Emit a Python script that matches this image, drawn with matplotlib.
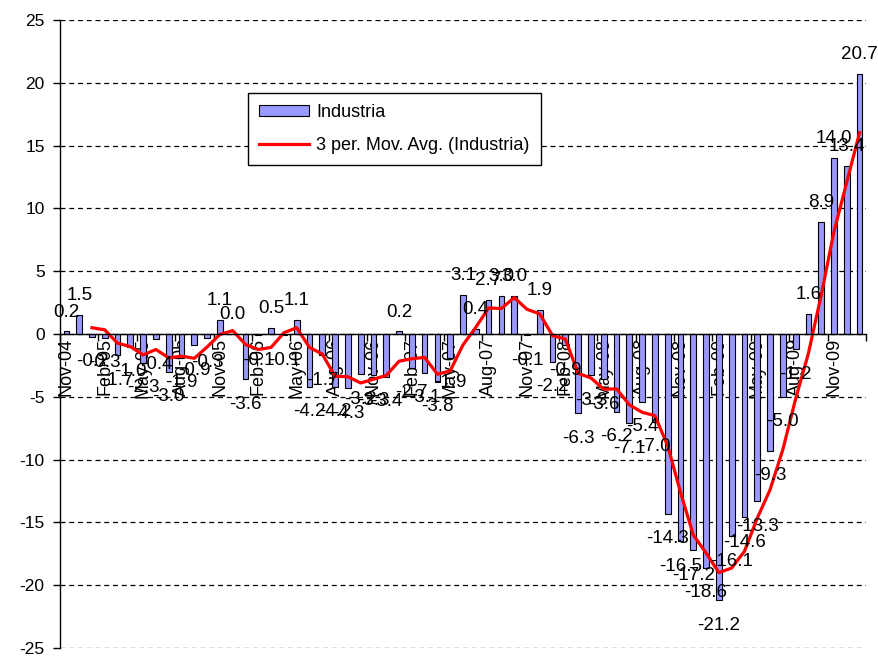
import matplotlib
matplotlib.use("Agg")
import matplotlib.pyplot as plt
import numpy as np
import pandas as pd
from matplotlib.ticker import FixedLocator, NullFormatter

plt.rcParams['font.family'] = ['Liberation Sans', 'DejaVu Sans']

# ---- data ----
months = list(pd.date_range('2004-11-01', periods=63, freq='MS').strftime('%b-%y'))
industria = [0.2, 1.5, -0.2, -0.3, -1.7, -1.0, -2.3, -0.4, -3.0, -1.9, -0.9, -0.3,
             1.1, 0.0, -3.6, -0.1, 0.5, -0.1, 1.1, -4.2, -1.7, -4.2, -4.3, -3.2,
             -3.3, -3.4, 0.2, -2.7, -3.1, -3.8, -1.9, 3.1, 0.4, 2.7, 3.0, 3.0,
             -0.1, 1.9, -2.2, -0.9, -6.3, -3.3, -3.6, -6.2, -7.1, -5.4, -7.0, -14.3,
             -16.5, -17.2, -18.6, -21.2, -16.1, -14.6, -13.3, -9.3, -5.0, -1.2, 1.6, 8.9,
             14.0, 13.4, 20.7]
series_name = 'Industria'
ma_name = '3 per. Mov. Avg. (Industria)'
yticks = [-25, -20, -15, -10, -5, 0, 5, 10, 15, 20, 25]

# ---- figure ----
fig = plt.figure(figsize=(8.79, 6.59), dpi=100)
ax = fig.add_axes([60/879, 1-648/659, 806/879, 628/659])

x = np.arange(len(industria))
vals = np.array(industria)
bar_c = ax.bar(x, vals, width=0.45, color='#9999FF', edgecolor='black', linewidth=0.8,
               label=series_name, zorder=3)
ma = pd.Series(vals).rolling(3).mean()
line, = ax.plot(x[2:], ma.values[2:], color='#FF0000', lw=2.3, label=ma_name, zorder=4,
                solid_joinstyle='round')

ax.set_xlim(-0.5, len(industria) - 0.5)
ax.set_ylim(-25, 25)

# y axis
ax.set_yticks(yticks)
ax.set_yticklabels([str(t) for t in yticks], fontsize=12.5)
ax.tick_params(axis='y', direction='out', length=5, width=1, pad=6)
ax.yaxis.grid(True, linestyle=(0, (4, 3)), color='black', lw=0.9, zorder=0)
ax.set_axisbelow(True)

# x axis at zero
ax.spines['bottom'].set_position(('data', 0))
ax.spines['bottom'].set_zorder(5)
ax.spines['top'].set_visible(False)
ax.spines['right'].set_visible(False)
ax.spines['left'].set_linewidth(1)
ax.spines['bottom'].set_linewidth(1)
lab_idx = list(range(0, len(months), 3))
ax.set_xticks(lab_idx)
ax.set_xticklabels([months[i] for i in lab_idx], rotation=90, fontsize=13,
                   ha='center', va='top')
ax.tick_params(axis='x', which='major', length=0, pad=3)
ax.xaxis.set_minor_locator(FixedLocator([i - 0.5 for i in lab_idx] + [len(months) - 0.5]))
ax.xaxis.set_minor_formatter(NullFormatter())
ax.tick_params(axis='x', which='minor', direction='out', length=5, width=1)

# data labels
for xi, v in zip(x, vals):
    off = 14 if v >= 0 else -18
    ax.annotate(f"{v:.1f}", (xi, v), xytext=(0, off), textcoords='offset points',
                ha='center', va='center', fontsize=13.5, zorder=6)

leg = ax.legend([bar_c, line], [series_name, ma_name],
                loc='upper left', bbox_to_anchor=(0.233, 0.884), fontsize=13,
                frameon=True, fancybox=False, edgecolor='black', framealpha=1,
                borderpad=0.6, handlelength=2.8, handleheight=0.6, handletextpad=0.4,
                labelspacing=0.9, borderaxespad=0)
leg.get_frame().set_linewidth(1)

fig.savefig('out.png', dpi=100)
